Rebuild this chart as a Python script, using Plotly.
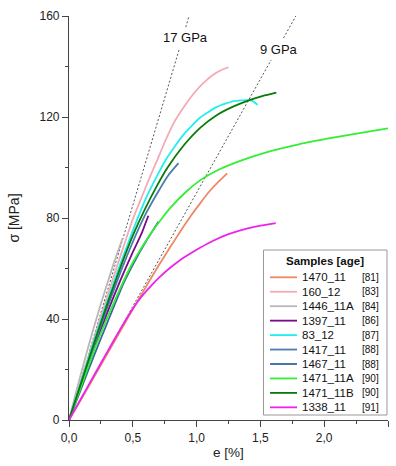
import plotly.graph_objects as go

# ---- sample curves: strain e [%] and stress sigma [MPa] ----
samples = ["1470_11", "160_12", "1446_11A", "1397_11", "83_12",
           "1417_11", "1467_11", "1471_11A", "1471_11B", "1338_11"]
ages = [81, 83, 84, 86, 87, 88, 88, 90, 90, 91]
colors = ["#EE8866", "#F2AAB4", "#B8B8B8", "#7A0A8A", "#22EEEE",
          "#4A7DB0", "#3469A0", "#33EE33", "#0A7A0A", "#EE22EE"]

e_1470_11 = [0, 0.1, 0.2, 0.3, 0.4, 0.49, 0.6, 0.7, 0.8, 0.87, 0.95, 1.03, 1.1, 1.17, 1.24]
s_1470_11 = [0, 8.6, 17.4, 26.2, 35, 43, 52.5, 61, 69, 74.5, 80.5, 86, 90.5, 94.3, 97.7]

e_160_12 = [0, 0.1, 0.2, 0.3, 0.4, 0.5, 0.58, 0.636, 0.688, 0.75, 0.819, 0.9, 0.976, 1.05, 1.133, 1.19, 1.25]
s_160_12 = [0, 16.5, 33, 49, 64.5, 79.5, 89.5, 96.5, 102.5, 110, 117.5, 124, 129.2, 133.3, 136.8, 138.5, 139.7]

e_1446_11A = [0, 0.05, 0.1, 0.165, 0.25, 0.35, 0.42]
s_1446_11A = [0, 10, 19.5, 31.5, 46, 62, 72]

e_1397_11 = [0, 0.1, 0.2, 0.3, 0.4, 0.5, 0.57, 0.6, 0.622]
s_1397_11 = [0, 14.5, 29, 42.5, 55, 66.5, 74, 78, 80.9]

e_83_12 = [0, 0.1, 0.2, 0.3, 0.4, 0.5, 0.6, 0.688, 0.767, 0.897, 1.028, 1.159, 1.29, 1.407, 1.44, 1.478]
s_83_12 = [0, 16, 32, 47, 61.5, 75, 87.5, 96.5, 103.8, 113, 119.8, 124, 126.3, 126.7, 126.3, 124.8]

e_1417_11 = [0, 0.1, 0.2, 0.3, 0.4, 0.5, 0.6, 0.7, 0.78, 0.858]
s_1417_11 = [0, 15, 30, 44.5, 58, 70.5, 81.5, 90.5, 97, 101.7]

e_1467_11 = [0, 0.1, 0.2, 0.3, 0.426, 0.5, 0.6, 0.701]
s_1467_11 = [0, 13, 26, 38.5, 54, 61.5, 70.5, 78.5]

e_1471_11A = [0, 0.1, 0.2, 0.3, 0.4, 0.48, 0.56, 0.64, 0.72, 0.79, 0.92, 1.03, 1.16, 1.3, 1.42, 1.58, 1.8, 2.07, 2.3, 2.5]
s_1471_11A = [0, 14, 28, 40.5, 52, 60.5, 67.5, 73.8, 79.3, 83.8, 90.5, 95, 98.8, 101.8, 104, 106.5, 109.2, 111.8, 113.8, 115.5]

e_1471_11B = [0, 0.1, 0.2, 0.3, 0.4, 0.5, 0.6, 0.69, 0.77, 0.9, 1.03, 1.16, 1.29, 1.42, 1.52, 1.625]
s_1471_11B = [0, 15.5, 31, 46, 60, 73, 84, 92.8, 99.8, 108.8, 115.8, 120.8, 124.2, 126.8, 128.4, 129.7]

e_1338_11 = [0, 0.1, 0.2, 0.3, 0.4, 0.48, 0.56, 0.65, 0.71, 0.8, 0.87, 0.97, 1.03, 1.13, 1.25, 1.4, 1.5, 1.62]
s_1338_11 = [0, 9, 18, 27, 35.8, 42.5, 48.3, 53.5, 56.6, 60.6, 63.3, 66.5, 68.3, 71, 73.6, 75.9, 77, 78]

strains = [e_1470_11, e_160_12, e_1446_11A, e_1397_11, e_83_12,
           e_1417_11, e_1467_11, e_1471_11A, e_1471_11B, e_1338_11]
stresses = [s_1470_11, s_160_12, s_1446_11A, s_1397_11, s_83_12,
            s_1417_11, s_1467_11, s_1471_11A, s_1471_11B, s_1338_11]

# reference moduli [GPa] and the stress ranges [MPa] of their drawn segments
moduli = [17, 9]
modulus_labels = ["17 GPa", "9 GPa"]
segments = [[(0, 146.5), (155.6, 160)], [(0, 142.6), (151.3, 160)]]
label_stress = [151.3, 146.9]

W, H = 396, 466
ML, MR, MT, MB = 69, 8, 16, 46
PW, PH = W - ML - MR, H - MT - MB


def px(x):
    return (x - ML) / PW


def py(y):
    return (H - MB - y) / PH


fig = go.Figure()

# modulus reference lines (stress = E * 10 * e with e in %)
for E, segs in zip(moduli, segments):
    for s0, s1 in segs:
        fig.add_trace(go.Scatter(
            x=[s0 / (E * 10), s1 / (E * 10)], y=[s0, s1], mode="lines",
            line=dict(color="#555555", width=1, dash="2px,2px"),
            showlegend=False, hoverinfo="skip"))

# the grey sample lies underneath the others
order = [2] + [i for i in range(len(samples)) if i != 2]
for i in order:
    fig.add_trace(go.Scatter(
        x=strains[i], y=stresses[i], mode="lines", name=samples[i],
        line=dict(color=colors[i], width=1.8, shape="spline", smoothing=0.5),
        showlegend=False))

annotations = []
for E, lab, sl in zip(moduli, modulus_labels, label_stress):
    annotations.append(dict(
        x=sl / (E * 10) + (0.02 if E == 17 else 0.01), y=sl, xref="x", yref="y",
        text=lab, showarrow=False,
        font=dict(family="Liberation Sans, Arial", size=13, color="#111111")))

# legend box drawn by hand: title, line swatches, names and ages
shapes = [dict(type="rect", xref="paper", yref="paper",
               x0=px(263.5), x1=px(387), y0=py(250), y1=py(415),
               line=dict(color="#999999", width=1), fillcolor="white", layer="above")]
annotations.append(dict(
    x=px(325), y=py(261), xref="paper", yref="paper", text="<b>Samples [age]</b>",
    xanchor="center", yanchor="middle", showarrow=False,
    font=dict(family="Liberation Sans, Arial", size=11.5, color="#111111")))
row0, dy = 277.3, 14.45
for i, (name, age, c) in enumerate(zip(samples, ages, colors)):
    yy = row0 + i * dy
    shapes.append(dict(type="line", xref="paper", yref="paper",
                       x0=px(270), x1=px(297), y0=py(yy), y1=py(yy),
                       line=dict(color=c, width=1.8), layer="above"))
    annotations.append(dict(
        x=px(300), y=py(yy), xref="paper", yref="paper", text=name,
        xanchor="left", yanchor="middle", showarrow=False,
        font=dict(family="Liberation Sans, Arial", size=11.5, color="#111111")))
    annotations.append(dict(
        x=px(381), y=py(yy), xref="paper", yref="paper", text=f"[{age}]",
        xanchor="right", yanchor="middle", showarrow=False,
        font=dict(family="Liberation Sans, Arial", size=10, color="#111111")))

fig.update_layout(
    width=W, height=H,
    margin=dict(l=ML, r=MR, t=MT, b=MB, pad=0),
    plot_bgcolor="white", paper_bgcolor="white",
    separators=", ",
    font=dict(family="Liberation Sans, Arial", size=12, color="#222222"),
    shapes=shapes, annotations=annotations,
    xaxis=dict(range=[0, 2.5], dtick=0.5, tickformat=".1f", showgrid=False,
               zeroline=False, showline=True, linecolor="#444444", linewidth=1.2,
               ticks="outside", ticklen=6, tickcolor="#444444", tickwidth=1.2,
               minor=dict(dtick=0.25, ticks="outside", ticklen=3, tickcolor="#444444"),
               tickfont=dict(size=12),
               title=dict(text="e [%]", font=dict(size=13.5), standoff=4)),
    yaxis=dict(range=[0, 160], dtick=40, showgrid=False,
               zeroline=False, showline=True, linecolor="#444444", linewidth=1.2,
               ticks="outside", ticklen=6, tickcolor="#444444", tickwidth=1.2,
               minor=dict(dtick=20, ticks="outside", ticklen=3, tickcolor="#444444"),
               tickfont=dict(size=12),
               title=dict(text="σ [MPa]", font=dict(size=14), standoff=16)),
)

fig.write_html("out.html")
